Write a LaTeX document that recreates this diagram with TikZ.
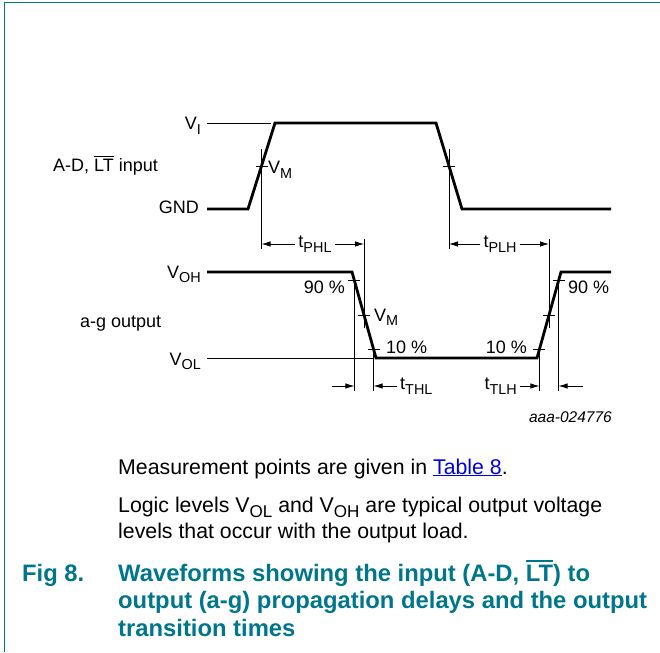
\documentclass[tikz,border=0pt]{standalone}
\usepackage{fontspec}
\usepackage{graphicx}
\usepackage{xcolor}
\setmainfont{Liberation Sans}
\usetikzlibrary{calc,arrows.meta}
\definecolor{fig-teal}{RGB}{0,118,140}
\definecolor{link-blue}{RGB}{0,0,230}
\newcommand{\lowsub}[1]{\raisebox{-0.26em}{\scalebox{0.8}{#1}}}
\newcommand{\barred}[1]{\vbox{\hrule height 0.07em\kern 0.13em\hbox{#1}}}
\tikzset{
    wave/.style = {line width=2.8pt, line join=miter},
    guide/.style = {line width=0.8pt},
    time-arrow/.style = {line width=0.8pt, -{Latex[length=9pt, width=5.5pt]}},
    level-label/.style = {font=\fontsize{18}{21}\selectfont, inner sep=0pt},
    time-label/.style = {font=\fontsize{18}{21}\selectfont, inner xsep=3pt, inner ysep=0pt},
    note-text/.style = {font=\fontsize{21.3}{26}\selectfont, inner sep=0pt, anchor=base west, align=left},
    fig-title/.style = {font=\bfseries\fontsize{23.8}{27.5}\selectfont, text=fig-teal, inner sep=0pt, anchor=base west, align=left},
}

\begin{document}
\begin{tikzpicture}[x=1pt, y=-1pt]
\useasboundingbox (0,0) rectangle (660,652);
\draw [fig-teal, line width=1.2pt] (660,2.2) -- (4.5,2.2) -- (4.5,652);

\coordinate (in-start) at (207,209);
\coordinate (in-low1) at (248,209);
\coordinate (in-high1) at (275,123);
\coordinate (in-high2) at (436,123);
\coordinate (in-low2) at (462,209);
\coordinate (in-end) at (611,209);
\coordinate (in-rise-m) at ($(in-low1)!0.5!(in-high1)$);
\coordinate (in-fall-m) at ($(in-high2)!0.5!(in-low2)$);

\coordinate (out-start) at (207,272);
\coordinate (out-high1) at (352,272);
\coordinate (out-low1) at (376,358);
\coordinate (out-low2) at (537,358);
\coordinate (out-high2) at (561,272);
\coordinate (out-end) at (611,272);
\coordinate (fall-90) at ($(out-high1)!0.1!(out-low1)$);
\coordinate (fall-50) at ($(out-high1)!0.5!(out-low1)$);
\coordinate (fall-10) at ($(out-high1)!0.9!(out-low1)$);
\coordinate (rise-10) at ($(out-low2)!0.1!(out-high2)$);
\coordinate (rise-50) at ($(out-low2)!0.5!(out-high2)$);
\coordinate (rise-90) at ($(out-low2)!0.9!(out-high2)$);

\draw [guide] (207,123) -- (271,123);
\draw [guide] (207,358) -- (373,358);
\draw [wave] (in-start) -- (in-low1) -- (in-high1) -- (in-high2) -- (in-low2) -- (in-end);
\draw [wave] (out-start) -- (out-high1) -- (out-low1) -- (out-low2) -- (out-high2) -- (out-end);

\foreach \p in {in-rise-m, in-fall-m}
    \draw [guide] ($(\p)+(0,-17)$) -- ($(\p)+(0,83)$);
\foreach \p in {fall-50, rise-50}
    \draw [guide] ($(\p)+(0,-76)$) -- ($(\p)+(0,13)$);
\foreach \p in {fall-90, rise-90}
    \draw [guide] ($(\p)+(0,-4)$) -- ($(\p)+(0,110)$);
\foreach \p in {fall-10, rise-10}
    \draw [guide] ($(\p)+(0,-4)$) -- ($(\p)+(0,42)$);
\foreach \p in {in-rise-m, in-fall-m, fall-90, fall-50, fall-10, rise-10, rise-50, rise-90}
    \draw [guide] ($(\p)+(-6,0)$) -- ($(\p)+(6,0)$);

\node [time-label] (tphl) at (315,244) {t\lowsub{PHL}};
\draw [time-arrow] (tphl.west) -- (tphl.west -| in-rise-m);
\draw [time-arrow] (tphl.east) -- (tphl.east -| fall-50);
\node [time-label] (tplh) at (500,244) {t\lowsub{PLH}};
\draw [time-arrow] (tplh.west) -- (tplh.west -| in-fall-m);
\draw [time-arrow] (tplh.east) -- (tplh.east -| rise-50);

\coordinate (thl-tail) at (332,386);
\draw [time-arrow] (thl-tail) -- (thl-tail -| fall-90);
\node [time-label, anchor=west] (tthl) at (397,386) {t\lowsub{THL}};
\draw [time-arrow] (tthl.west) -- (tthl.west -| fall-10);
\node [time-label, anchor=east] (ttlh) at (520,386) {t\lowsub{TLH}};
\draw [time-arrow] (ttlh.east) -- (ttlh.east -| rise-10);
\coordinate (tlh-tail) at (583,386);
\draw [time-arrow] (tlh-tail) -- (tlh-tail -| rise-90);

\node [level-label, anchor=base east] (vi) at (201,130) {V\lowsub{I}};
\node [level-label, anchor=base west] (in-name) at (53,172) {A-D, \barred{LT} input};
\node [level-label, anchor=base east] (gnd) at (199,214) {GND};
\node [level-label, anchor=base west] (vm-in) at (268,174) {V\lowsub{M}};
\node [level-label, anchor=base east] (voh) at (201,278) {V\lowsub{OH}};
\node [level-label, anchor=base east] (p90-fall) at (345,293) {90 \%};
\node [level-label, anchor=base west] (vm-out) at (374,321) {V\lowsub{M}};
\node [level-label, anchor=base west] (p10-fall) at (386,353) {10 \%};
\node [level-label, anchor=base east] (vol) at (201,365) {V\lowsub{OL}};
\node [level-label, anchor=base west] (out-name) at (80,327) {a-g output};
\node [level-label, anchor=base east] (p10-rise) at (527,353) {10 \%};
\node [level-label, anchor=base west] (p90-rise) at (568,293) {90 \%};
\node [level-label, anchor=base east, font=\itshape\fontsize{15.5}{18}\selectfont] (code) at (612,422) {aaa-024776};

\node [note-text] (note1) at (118,474) {Measurement points are given in {\color{link-blue}\underline{Table 8}}.};
\node [note-text] (note2) at (118,538) {Logic levels V\lowsub{OL} and V\lowsub{OH} are typical output voltage\\levels that occur with the output load.};
\node [fig-title] (fig-num) at (22,581) {Fig 8.};
\node [fig-title] (fig-text) at (118,636) {Waveforms showing the input (A-D, \barred{LT}) to\\output (a-g) propagation delays and the output\\transition times};
\end{tikzpicture}
\end{document}
